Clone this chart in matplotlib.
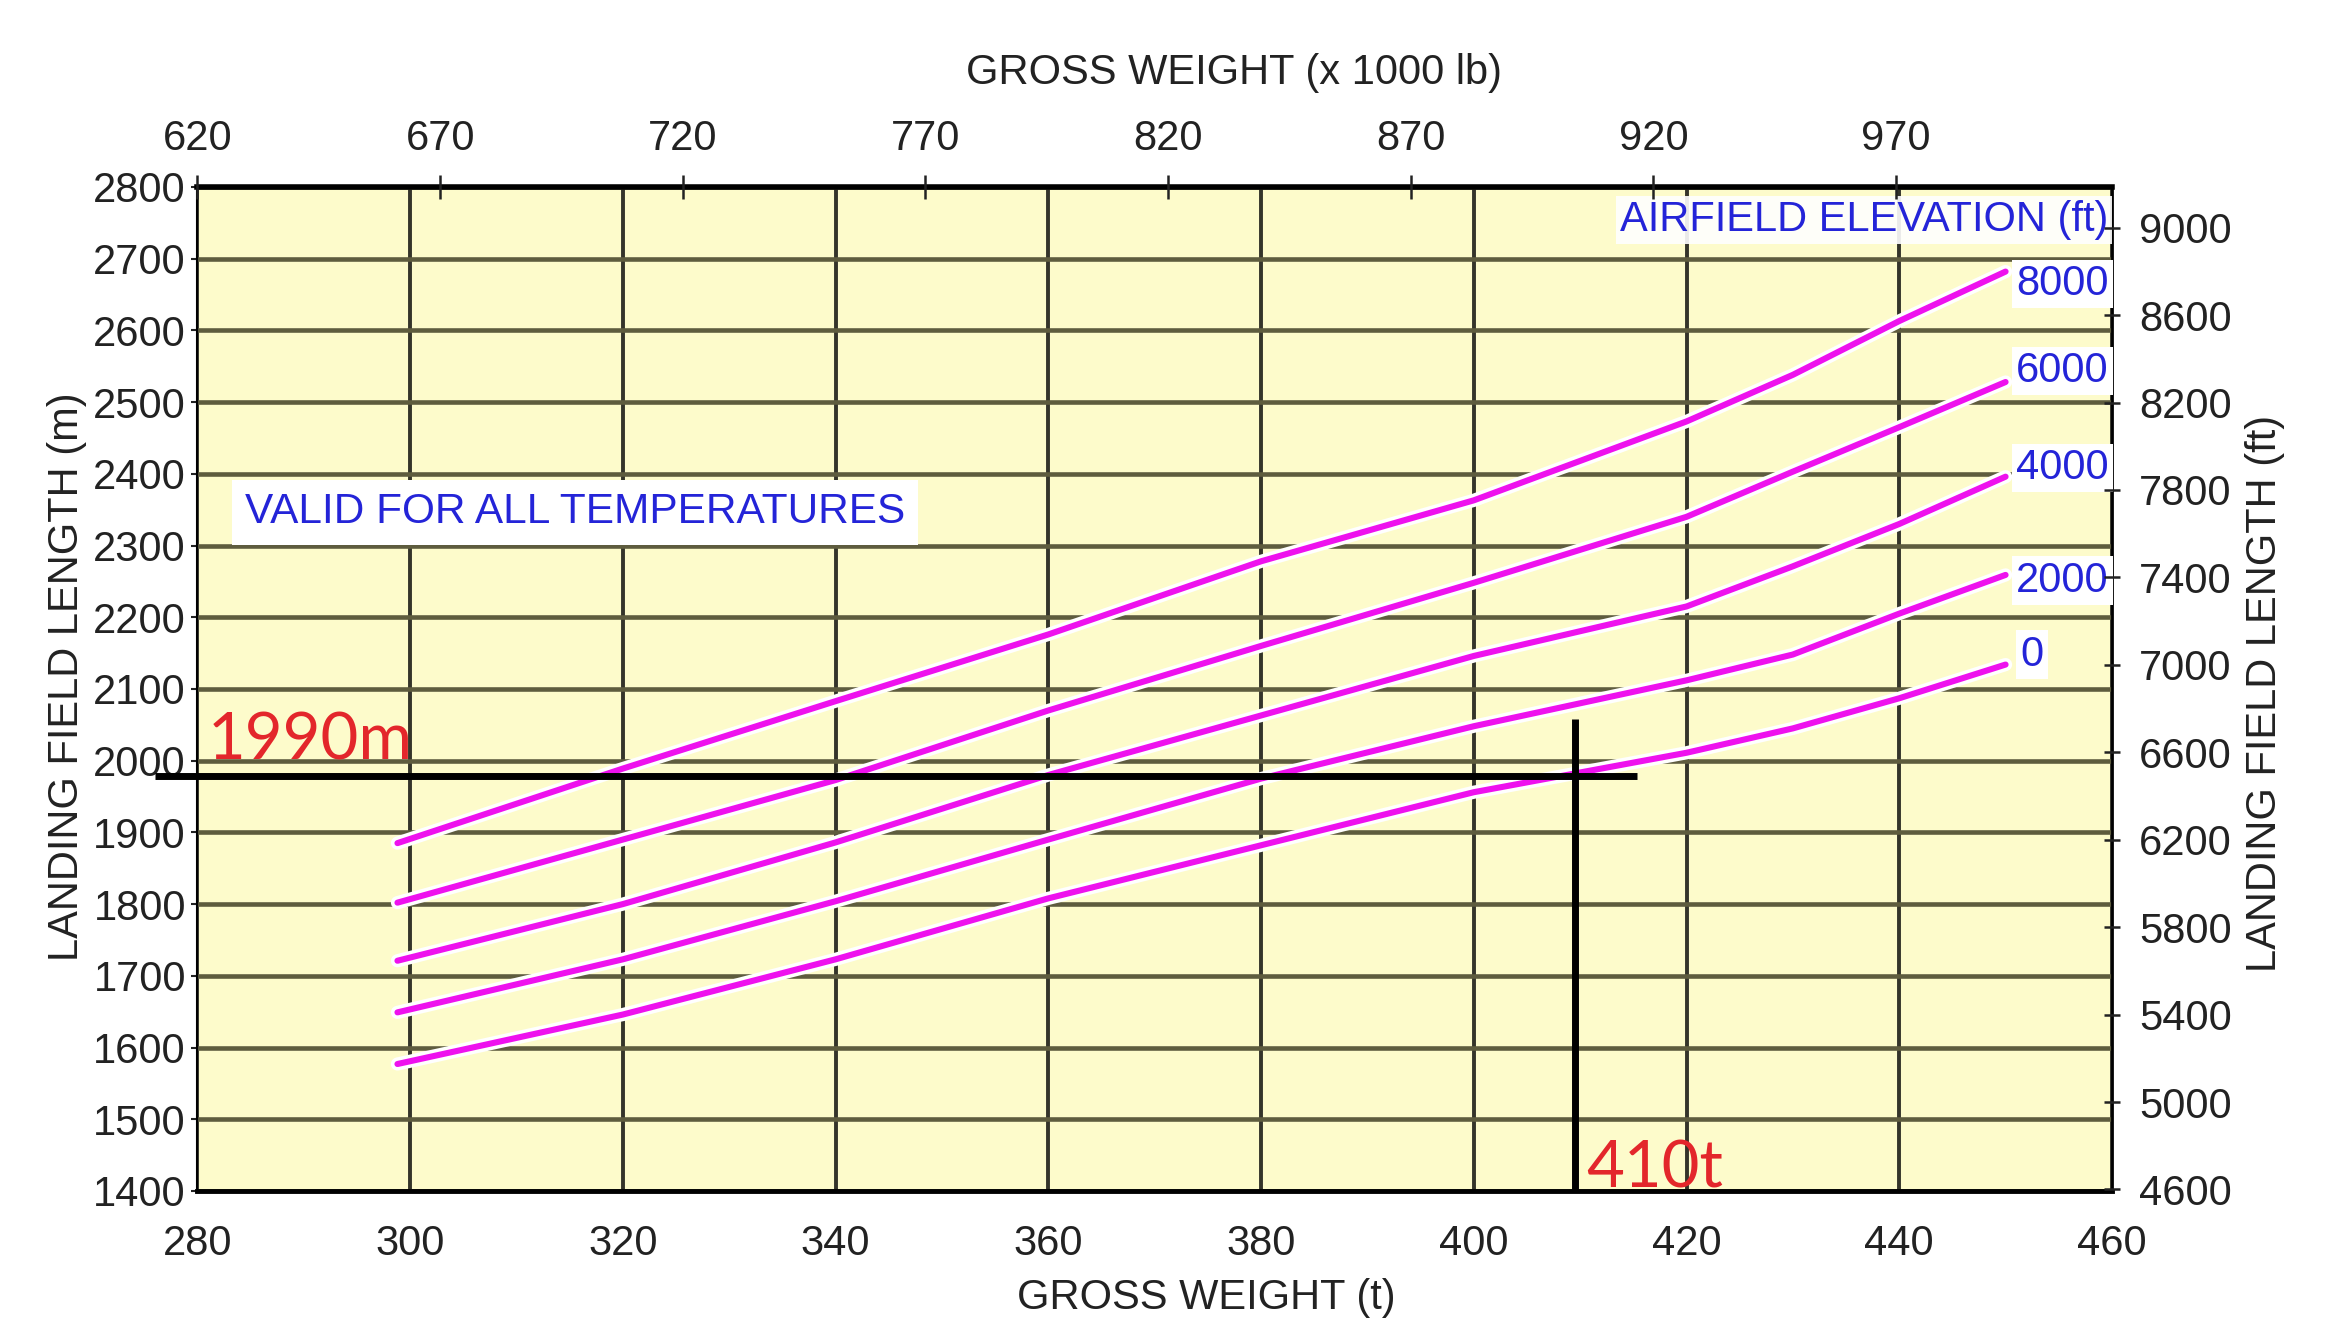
import matplotlib
matplotlib.use("Agg")
import matplotlib.pyplot as plt
import matplotlib.patheffects as pe

# ---------------- data ----------------
weights_t = [298.8, 320, 340, 360, 380, 400, 420, 430, 440, 450]
elev_labels = ["0", "2000", "4000", "6000", "8000"]
len_0 = [1577, 1646, 1723, 1808, 1882, 1956, 2011, 2045, 2087, 2134]
len_2000 = [1649, 1723, 1804, 1890, 1975, 2048, 2112, 2148, 2205, 2259]
len_4000 = [1721, 1800, 1886, 1980, 2063, 2146, 2215, 2271, 2330, 2396]
len_6000 = [1802, 1890, 1973, 2070, 2160, 2248, 2340, 2403, 2465, 2528]
len_8000 = [1885, 1989, 2083, 2176, 2278, 2363, 2473, 2538, 2613, 2682]
curves = [len_0, len_2000, len_4000, len_6000, len_8000]
elev_label_len = [2148, 2251, 2408, 2543, 2665]
elev_label_weight = [451.4, 451.0, 451.0, 451.0, 451.0]

x_ticks = list(range(280, 461, 20))
y_ticks = list(range(1400, 2801, 100))
top_ticks = list(range(620, 971, 50))
top_lim = (620, 1014.5)
right_ticks = list(range(4600, 9001, 400))
m_to_ft = 3.28084

# reading lines (example: 410 t -> 1990 m)
read_weight = 409.5
read_length = 1979
read_h_span = (276, 415.3)
read_v_top = 2058

# ---------------- style ----------------
FONT = ["Liberation Sans", "DejaVu Sans"]
plt.rcParams["font.family"] = FONT
FS = 30
BG = "#fdfbcb"
MAG = "#ee11ee"
BLUE = "#2424d8"
RED = "#e3262b"
TXT = "#222222"

fig = plt.figure(figsize=(23.29, 13.24), dpi=100)
ax = fig.add_axes([0.0848, 0.1005, 0.9068 - 0.0848, 0.8588 - 0.1005])
ax.set_facecolor(BG)
ax.set_xlim(280, 460)
ax.set_ylim(1400, 2800)
ax.set_xticks(x_ticks)
ax.set_yticks(y_ticks)
ax.set_axisbelow(True)

# grid
ax.xaxis.grid(True, color="#34342a", linewidth=2.8)
ax.yaxis.grid(True, color="#5e5c3e", linewidth=3.3)

ax.tick_params(axis="x", length=0, pad=24, labelsize=FS, colors=TXT)
ax.tick_params(axis="y", length=4.3, width=1.5, pad=4, labelsize=FS, colors=TXT)

for s, w in [("left", 1.5), ("bottom", 3.5), ("top", 4.0), ("right", 2.0)]:
    ax.spines[s].set_linewidth(w)
    ax.spines[s].set_color("black")

# curves
for vals in curves:
    ax.plot(weights_t, vals, color=MAG, linewidth=4.4, solid_capstyle="round",
            solid_joinstyle="round", zorder=4,
            path_effects=[pe.Stroke(linewidth=9.5, foreground="white"), pe.Normal()])

# elevation labels
for lab, xw, yl in zip(elev_labels, elev_label_weight, elev_label_len):
    ax.text(xw, yl, lab, color=BLUE, fontsize=FS,
            ha="left", va="center", zorder=5,
            bbox=dict(boxstyle="square,pad=0.1", facecolor="white", edgecolor="none"))

ax.text(0.998, 0.967, "AIRFIELD ELEVATION (ft)", transform=ax.transAxes,
        color=BLUE, fontsize=FS, ha="right", va="center", zorder=5,
        bbox=dict(boxstyle="square,pad=0.1", facecolor="white", edgecolor="none", alpha=0.9))
ax.text(0.0248, 0.676, "VALID FOR ALL TEMPERATURES", transform=ax.transAxes,
        color=BLUE, fontsize=30.5, ha="left", va="center", zorder=5,
        bbox=dict(boxstyle="square,pad=0.3", facecolor="white", edgecolor="none"))

# reading lines
ax.plot(list(read_h_span), [read_length, read_length], color="black", linewidth=5.0,
        zorder=6, clip_on=False, solid_capstyle="butt")
ax.plot([read_weight, read_weight], [1400, read_v_top], color="black", linewidth=5.0,
        zorder=6, clip_on=False, solid_capstyle="butt")
ax.text(281, 2001, "1990m", color=RED, fontsize=47, family=["Lato", "DejaVu Sans"],
        ha="left", va="baseline", zorder=7)
ax.text(410.6, 1405, "410t", color=RED, fontsize=47, family=["Lato", "DejaVu Sans"],
        ha="left", va="baseline", zorder=7)

# labels
ax.set_xlabel("GROSS WEIGHT (t)", fontsize=FS, color=TXT)
ax.xaxis.set_label_coords(0.527, -0.1066)
ax.xaxis.label.set_va("center")
ax.set_ylabel("LANDING FIELD LENGTH (m)", fontsize=FS, color=TXT)
ax.yaxis.set_label_coords(-0.068, 0.512)
ax.yaxis.label.set_va("center")

# top axis (x 1000 lb)
axt = ax.twiny()
axt.set_xlim(*top_lim)
axt.set_xticks(top_ticks)
axt.tick_params(axis="x", direction="inout", length=17, width=1.8, pad=11.5,
                labelsize=FS, colors=TXT)
for s in axt.spines.values():
    s.set_visible(False)
axt.set_xlabel("GROSS WEIGHT (x 1000 lb)", fontsize=FS, color=TXT)
axt.xaxis.set_label_coords(0.5415, 1.113)
axt.xaxis.label.set_va("center")

# right axis (ft)
axr = ax.twinx()
axr.set_ylim(1400 * m_to_ft, 2800 * m_to_ft)
axr.set_yticks(right_ticks)
axr.tick_params(axis="y", direction="inout", length=12, width=1.8, pad=13.5,
                labelsize=FS, colors=TXT)
for s in axr.spines.values():
    s.set_visible(False)
axr.set_ylabel("LANDING FIELD LENGTH (ft)", fontsize=FS, color=TXT)
axr.yaxis.set_label_coords(1.08, 0.496)
axr.yaxis.label.set_va("center")

fig.savefig("out.png", dpi=100, facecolor="white")
